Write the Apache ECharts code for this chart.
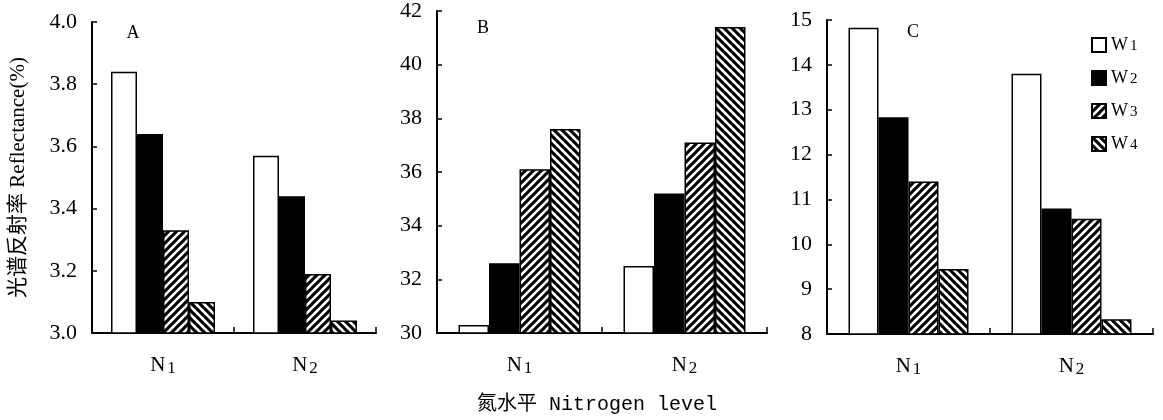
<!DOCTYPE html>
<html>
<head>
<meta charset="utf-8">
<script src="https://cdn.jsdelivr.net/npm/echarts@6/dist/echarts.min.js"></script>
<style>
html,body{margin:0;padding:0;background:#fff;}
#chart{width:1163px;height:420px;}
</style>
</head>
<body>
<div id="chart"></div>
<script>
// ---- data ----
const categories = ['N1', 'N2'];
const seriesNames = ['W1', 'W2', 'W3', 'W4'];
const panelLetters = ['A', 'B', 'C'];

const aW1 = [3.84, 3.57];
const aW2 = [3.64, 3.44];
const aW3 = [3.33, 3.19];
const aW4 = [3.10, 3.04];

const bW1 = [30.3, 32.5];
const bW2 = [32.6, 35.2];
const bW3 = [36.1, 37.1];
const bW4 = [37.6, 41.4];

const cW1 = [14.83, 13.80];
const cW2 = [12.83, 10.80];
const cW3 = [11.40, 10.57];
const cW4 = [9.45, 8.33];

const yAxisTitle = '光谱反射率 Reflectance(%)';
const xAxisTitle = '氮水平 Nitrogen level';

// ---- styles ----
const SERIF = '"Liberation Serif", "Times New Roman", "Noto Sans CJK SC", serif';

function hatch(dir, size) {
  const c = document.createElement('canvas');
  c.width = size; c.height = size;
  const g = c.getContext('2d');
  g.fillStyle = '#fff';
  g.fillRect(0, 0, size, size);
  g.strokeStyle = '#000';
  g.lineWidth = size * 0.38;
  g.lineCap = 'butt';
  for (const k of [-size, 0, size]) {
    g.beginPath();
    if (dir === '/') { g.moveTo(k - 1, size + 1); g.lineTo(k + size + 1, -1); }
    else { g.moveTo(k - 1, -1); g.lineTo(k + size + 1, size + 1); }
    g.stroke();
  }
  return c;
}

const styles = [
  { color: '#ffffff', borderColor: '#000', borderWidth: 1.5 },
  { color: '#000000', borderColor: '#000', borderWidth: 1.5 },
  { color: { image: hatch('/', 8), repeat: 'repeat' }, borderColor: '#000', borderWidth: 1.5 },
  { color: { image: hatch('\\', 8), repeat: 'repeat' }, borderColor: '#000', borderWidth: 1.5 }
];

const panels = [
  { data: [aW1, aW2, aW3, aW4], min: 3, max: 4, interval: 0.2, fmt: v => v.toFixed(1),
    grid: { left: 92, top: 22, width: 284, height: 311 }, barWidth: 26, letter: [133, 33] },
  { data: [bW1, bW2, bW3, bW4], min: 30, max: 42, interval: 2, fmt: v => String(v),
    grid: { left: 437, top: 11, width: 330, height: 322 }, barWidth: 30.5, letter: [483, 28] },
  { data: [cW1, cW2, cW3, cW4], min: 8, max: 15, interval: 1, fmt: v => String(v),
    grid: { left: 827, top: 20, width: 326, height: 314 }, barWidth: 30, letter: [913, 32] }
];

const axisLineStyle = { show: true, lineStyle: { color: '#000', width: 2 } };

const grids = [], xAxes = [], yAxes = [], series = [], graphics = [];
panels.forEach((p, i) => {
  grids.push(Object.assign({ containLabel: false }, p.grid));
  xAxes.push({
    type: 'category', gridIndex: i, data: categories, boundaryGap: true,
    axisLine: axisLineStyle,
    axisTick: { show: true, inside: true, length: 6, lineStyle: { color: '#000', width: 1.5 } },
    axisLabel: {
      margin: 20, color: '#000',
      formatter: v => '{n|' + v[0] + '}{s|' + v.slice(1) + '}',
      rich: {
        n: { fontFamily: SERIF, fontSize: 21, color: '#000', lineHeight: 24 },
        s: { fontFamily: SERIF, fontSize: 17, color: '#000', verticalAlign: 'bottom', lineHeight: 17, padding: [0, 0, 0, 2] }
      }
    },
    splitLine: { show: false }
  });
  yAxes.push({
    type: 'value', gridIndex: i, min: p.min, max: p.max, interval: p.interval,
    axisLine: axisLineStyle,
    axisTick: { show: true, inside: true, length: 5, lineStyle: { color: '#000', width: 1.5 } },
    axisLabel: { margin: 15, color: '#000', fontFamily: SERIF, fontSize: 22, formatter: p.fmt },
    splitLine: { show: false },
    name: i === 0 ? yAxisTitle : '',
    nameLocation: 'middle', nameRotate: 90, nameGap: 63,
    nameTextStyle: { fontFamily: SERIF, fontSize: 21, color: '#000' }
  });
  p.data.forEach((vals, k) => {
    series.push({
      type: 'bar', name: seriesNames[k], xAxisIndex: i, yAxisIndex: i,
      data: vals, barWidth: p.barWidth, barGap: '0%',
      itemStyle: styles[k]
    });
  });
  graphics.push({
    type: 'text', x: p.letter[0], y: p.letter[1],
    style: { text: panelLetters[i], font: '18px ' + SERIF, fill: '#000', textAlign: 'center', textVerticalAlign: 'middle' }
  });
});

graphics.push({
  type: 'text', x: 597, y: 405,
  style: {
    text: xAxisTitle, fill: '#000',
    font: '20px "Liberation Mono", "Noto Sans CJK SC", monospace',
    textAlign: 'center', textVerticalAlign: 'middle'
  }
});

const chart = echarts.init(document.getElementById('chart'), null, { renderer: 'canvas' });
chart.setOption({
  animation: false,
  backgroundColor: '#fff',
  grid: grids,
  xAxis: xAxes,
  yAxis: yAxes,
  series: series,
  legend: {
    data: seriesNames, orient: 'vertical', left: 1091, top: 36, padding: 0,
    itemWidth: 14, itemHeight: 14, itemGap: 15,
    icon: 'rect',
    formatter: name => '{w|' + name[0] + '}{s|' + name.slice(1) + '}',
    textStyle: {
      color: '#000',
      rich: {
        w: { fontFamily: SERIF, fontSize: 18, color: '#000', lineHeight: 18 },
        s: { fontFamily: SERIF, fontSize: 15, color: '#000', verticalAlign: 'bottom', lineHeight: 14, padding: [0, 0, 0, 2] }
      }
    },
    itemStyle: { borderColor: '#000', borderWidth: 2 }
  },
  graphic: graphics
});
</script>
</body>
</html>
